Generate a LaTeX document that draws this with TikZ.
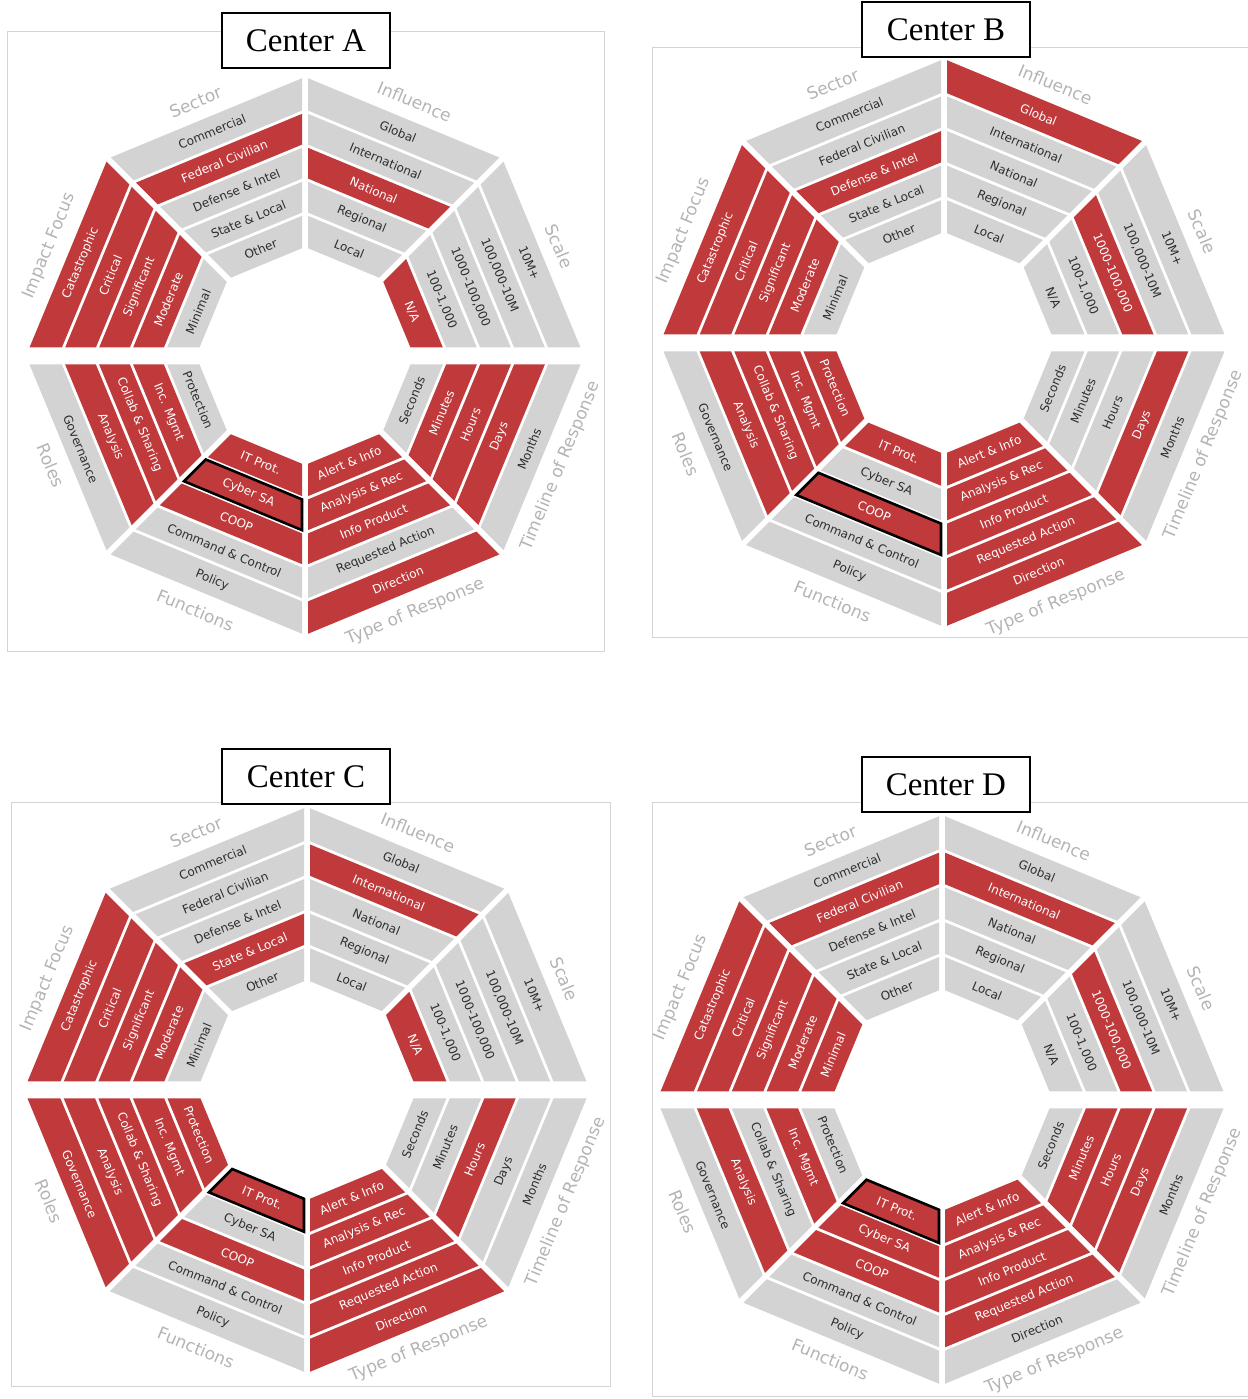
\documentclass[tikz,border=0pt]{standalone}
\usepackage{fontspec}
\newfontfamily\chartfont{DejaVu Sans}
\newfontfamily\capfont{Liberation Serif}
\usetikzlibrary{calc}
\definecolor{cred}{RGB}{192,57,59}
\definecolor{cgray}{RGB}{211,211,211}
\definecolor{ctext}{RGB}{45,45,45}
\definecolor{ctitle}{RGB}{180,180,180}
\definecolor{cframe}{RGB}{212,212,212}
\tikzset{
  lab/.style={font=\chartfont\fontsize{6}{7}\selectfont,inner sep=0pt},
  sectlab/.style={font=\chartfont\fontsize{8.5}{10}\selectfont,text=ctitle,inner sep=0pt},
  hl/.style={draw=black,line width=1.3pt,line join=miter},
  panel/.style={draw=cframe,line width=0.5pt},
  namebox/.style={draw=black,line width=1pt,fill=white,minimum width=84pt,
    minimum height=27.5pt,inner sep=0pt,font=\capfont\fontsize{16.5}{18}\selectfont}
}
% band names, inner to outer, sectors counter-clockwise from 0 deg
\newcommand{\bandname}[2]{%
  \ifcase#1\relax
    \ifcase#2\relax\or N/A\or 100-1,000\or 1000-100,000\or 100,000-10M\or 10M+\fi
  \or \ifcase#2\relax\or Local\or Regional\or National\or International\or Global\fi
  \or \ifcase#2\relax\or Other\or State \& Local\or Defense \& Intel\or Federal Civilian\or Commercial\fi
  \or \ifcase#2\relax\or Minimal\or Moderate\or Significant\or Critical\or Catastrophic\fi
  \or \ifcase#2\relax\or Protection\or Inc. Mgmt\or Collab \& Sharing\or Analysis\or Governance\fi
  \or \ifcase#2\relax\or IT Prot.\or Cyber SA\or COOP\or Command \& Control\or Policy\fi
  \or \ifcase#2\relax\or Alert \& Info\or Analysis \& Rec\or Info Product\or Requested Action\or Direction\fi
  \or \ifcase#2\relax\or Seconds\or Minutes\or Hours\or Days\or Months\fi
  \fi}
\newcommand{\sectname}[1]{\ifcase#1\relax Scale\or Influence\or Sector\or Impact Focus\or
  Roles\or Functions\or Type of Response\or Timeline of Response\fi}
% #1 id, #2 centre, #3 outer radius, #4 inner radius, #5 colours (1 = red), #6/#7 outlined cell
\newcommand{\wheel}[7]{%
  \begin{scope}[shift={#2}]
    \pgfmathsetmacro\pzero{#4*0.92388}
    \pgfmathsetmacro\pfive{#3*0.92388}
    \pgfmathsetmacro\wb{(#3-#4)*0.92388/5}
    \foreach \bits [count=\sid from 0] in {#5} {
      \pgfmathsetmacro\a{45*\sid}
      \pgfmathsetmacro\b{\a+45}
      \pgfmathsetmacro\m{\a+22.5}
      \pgfmathsetmacro\ha{mod(\sid,4)==0 ? 8.5 : 3}
      \pgfmathsetmacro\hb{mod(\sid,4)==3 ? 8.5 : 3}
      \pgfmathsetmacro\rot{\sid<4 ? \m-90 : \m+90}
      \pgfmathsetmacro\tdir{mod(\sid,2)==0 ? \m+90 : \m-90}
      \foreach \f [count=\k] in \bits {
        \pgfmathsetmacro\pin{\pzero+(\k-1)*\wb+(\k>1)*1.5}
        \pgfmathsetmacro\pout{\pzero+\k*\wb-(\k<5)*1.5}
        \pgfmathsetmacro\tia{(\pin-\ha*0.38268)/0.92388}
        \pgfmathsetmacro\toa{(\pout-\ha*0.38268)/0.92388}
        \pgfmathsetmacro\tib{(\pin-\hb*0.38268)/0.92388}
        \pgfmathsetmacro\tob{(\pout-\hb*0.38268)/0.92388}
        \ifnum\f=1 \def\cellcol{cred}\def\labcol{white}\else\def\cellcol{cgray}\def\labcol{ctext}\fi
        \fill[fill=\cellcol] ($(\a+90:\ha)+(\a:\tia)$) -- ($(\a+90:\ha)+(\a:\toa)$)
          -- ($(\b-90:\hb)+(\b:\tob)$) -- ($(\b-90:\hb)+(\b:\tib)$) -- cycle;
        \ifnum\sid=#6\relax\ifnum\k=#7\relax
          \draw[hl] ($(\a+90:\ha)+(\a:\tia)$) -- ($(\a+90:\ha)+(\a:\toa)$)
            -- ($(\b-90:\hb)+(\b:\tob)$) -- ($(\b-90:\hb)+(\b:\tib)$) -- cycle;
        \fi\fi
        \node[lab,text=\labcol,rotate=\rot] (#1-s\sid-b\k) at (\m:{(\pin+\pout)/2}) {\bandname{\sid}{\k}};
      }
      \ifnum\sid<4 \def\tanc{south}\else\def\tanc{north}\fi
      \node[sectlab,rotate=\rot,anchor=\tanc] (#1-t\sid) at ($(\m:{\pfive+12})+(\tdir:4)$) {\sectname{\sid}};
    }
  \end{scope}}

\begin{document}
\begin{tikzpicture}[x=0.5pt,y=0.5pt]
  \useasboundingbox (0,0) rectangle (1248,1399);
  % Center A
  \draw[panel] (7,747) rectangle (604,1367);
  \wheel{A}{(305,1043)}{279}{109}{{1,0,0,0,0},{0,0,1,0,0},{0,0,0,1,0},{0,1,1,1,1},
    {0,1,1,1,0},{1,1,1,0,0},{1,1,1,0,1},{0,1,1,1,0}}{5}{2}
  \node[namebox] (nameA) at (306,1358.5) {Center A};
  % Center B
  \draw[panel] (652,761) rectangle (1248,1351);
  \wheel{B}{(944,1056)}{284}{111}{{0,0,1,0,0},{0,0,0,0,1},{0,0,1,0,0},{0,1,1,1,1},
    {1,1,1,1,0},{1,0,1,0,0},{1,1,1,1,1},{0,0,0,1,0}}{5}{3}
  \node[namebox] (nameB) at (946,1369.5) {Center B};
  % Center C
  \draw[panel] (11,12) rectangle (610,596);
  \wheel{C}{(307,309)}{283}{110}{{1,0,0,0,0},{0,0,0,1,0},{0,1,0,0,0},{0,1,1,1,1},
    {1,1,1,1,1},{1,0,1,0,0},{1,1,1,1,1},{0,0,1,0,0}}{5}{1}
  \node[namebox] (nameC) at (306,622.5) {Center C};
  % Center D
  \draw[panel] (652,2) rectangle (1248,596);
  \wheel{D}{(942,299)}{285}{111}{{0,0,1,0,0},{0,0,0,1,0},{0,0,0,1,0},{1,1,1,1,1},
    {0,1,0,1,0},{1,1,1,0,0},{1,1,1,1,0},{0,1,1,1,0}}{5}{1}
  \node[namebox] (nameD) at (946,614) {Center D};
\end{tikzpicture}
\end{document}
